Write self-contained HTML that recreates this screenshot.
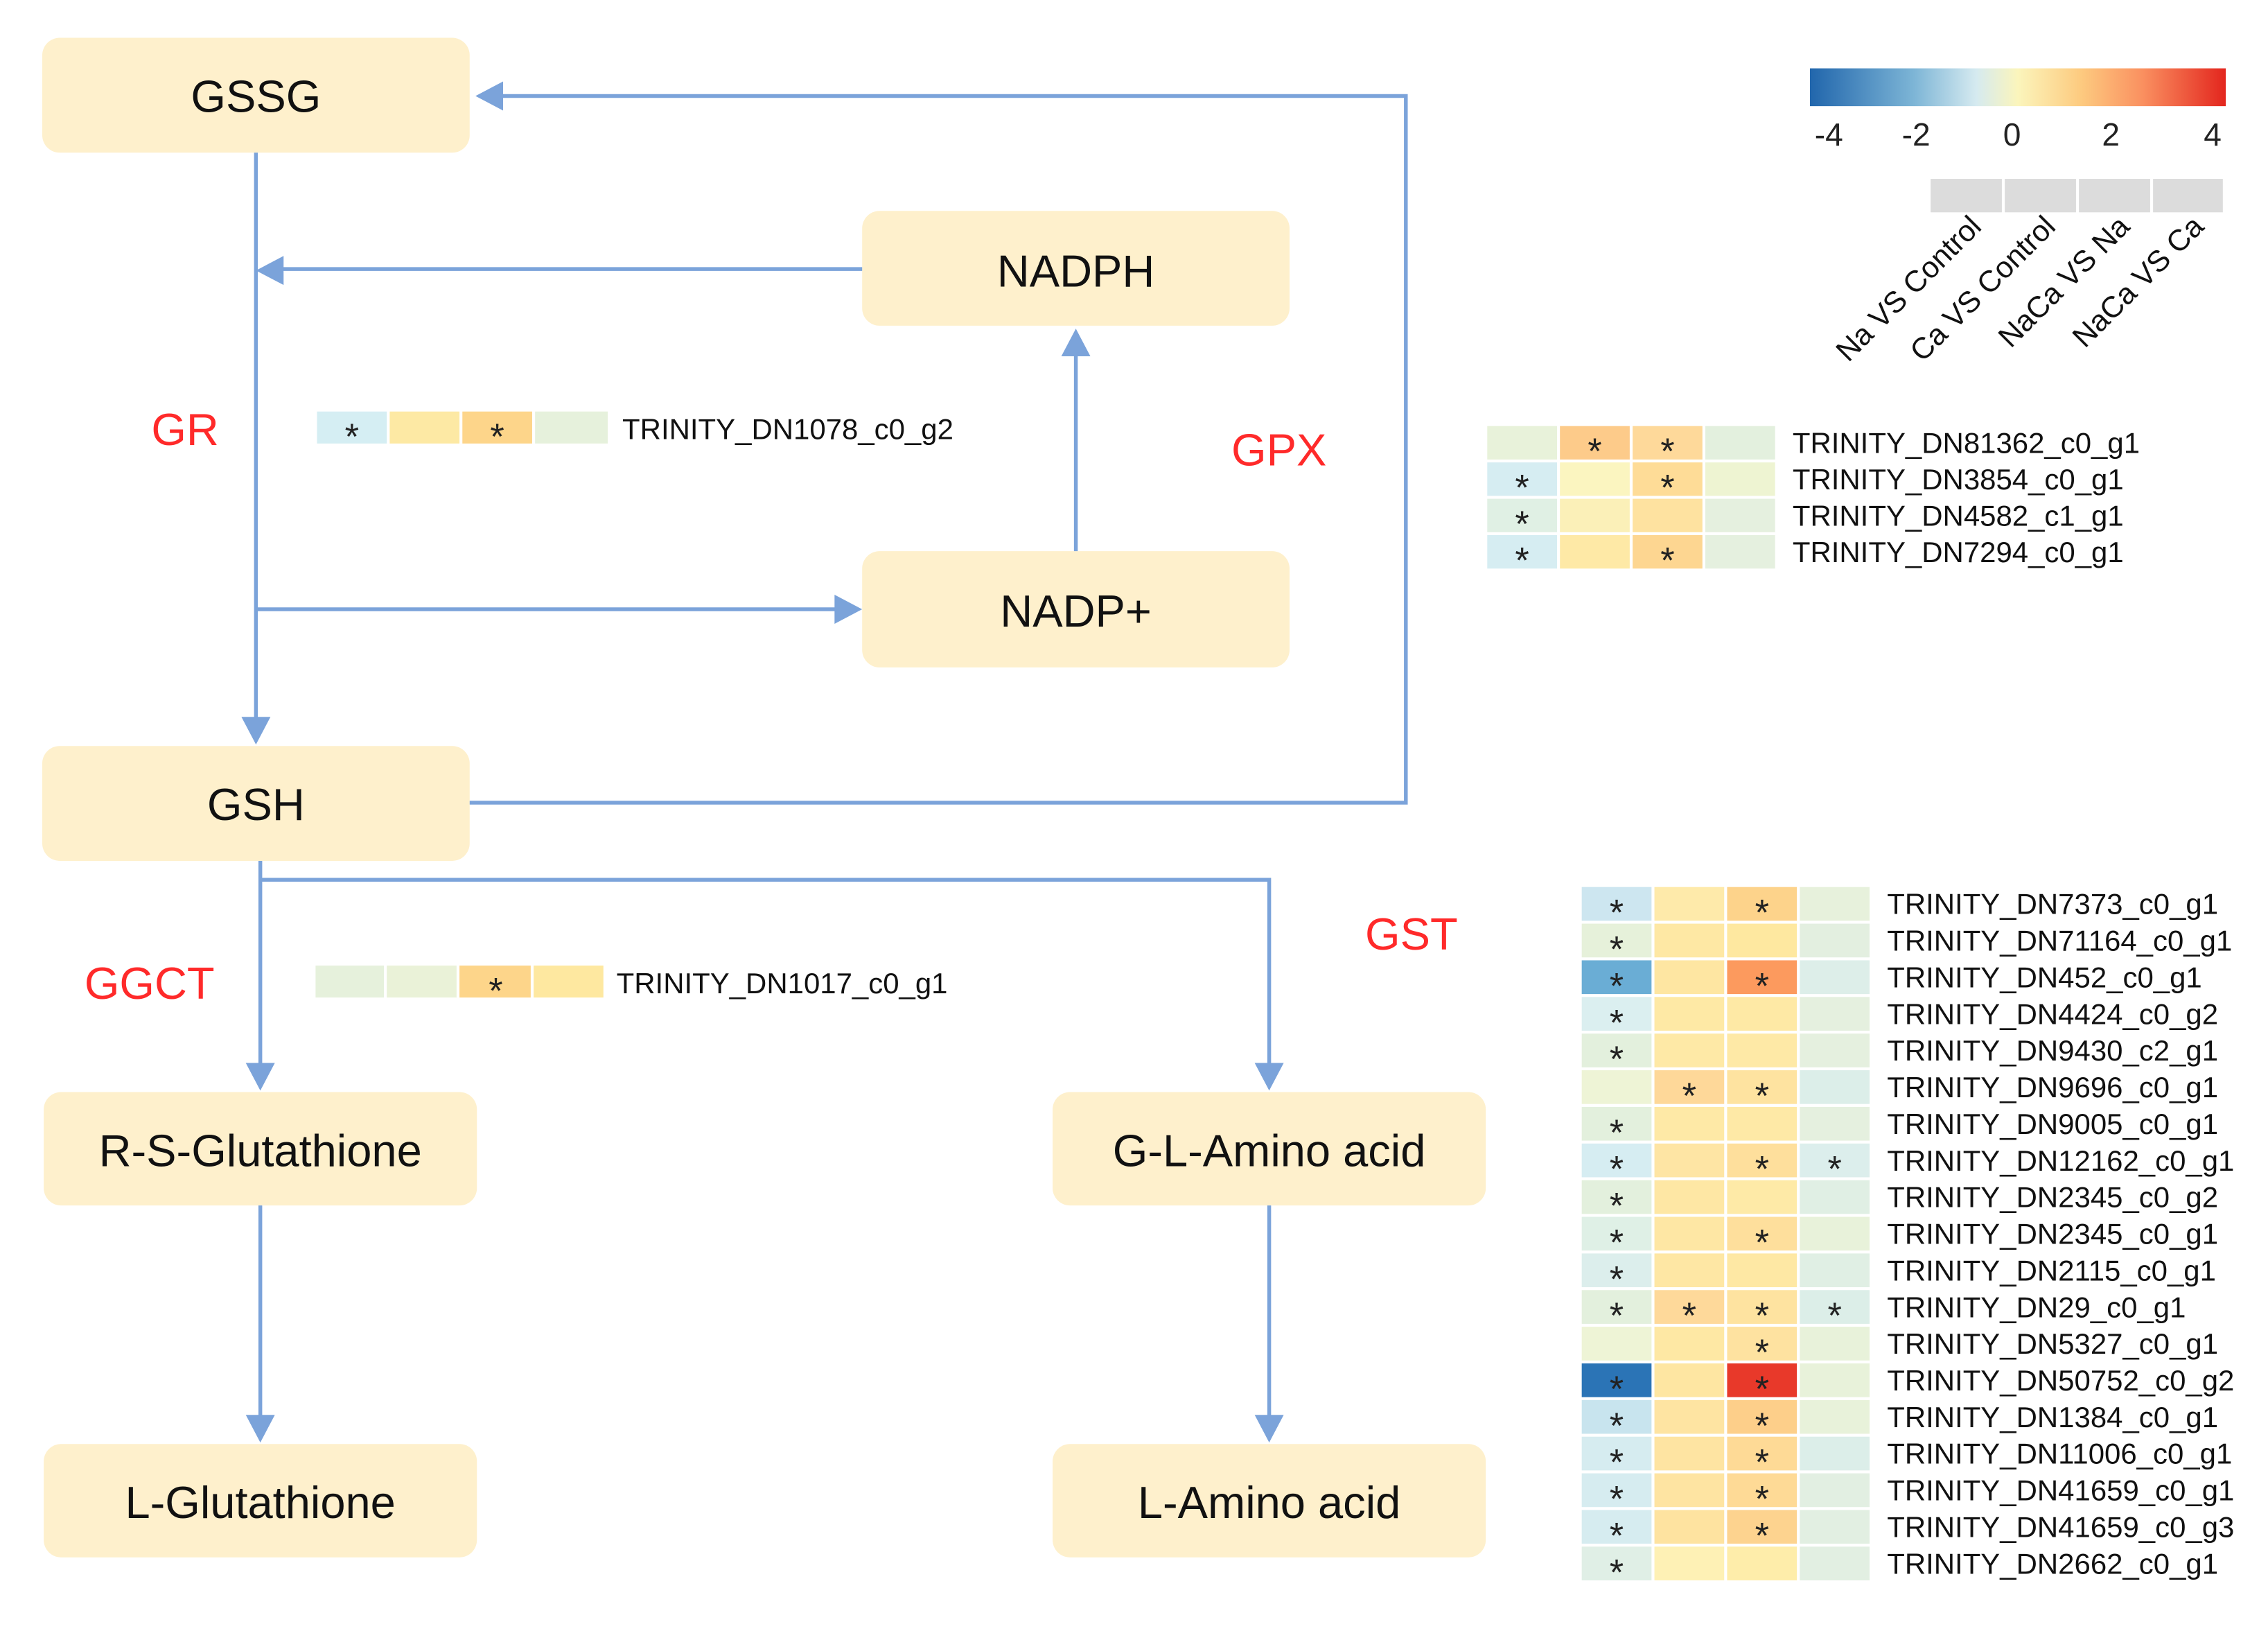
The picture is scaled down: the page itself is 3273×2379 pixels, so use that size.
<!DOCTYPE html>
<html><head><meta charset="utf-8"><style>
html,body{margin:0;padding:0;background:#fff}
svg{display:block}
text{font-family:"Liberation Sans",Arial,sans-serif}
</style></head><body>
<svg width="3273" height="2379" viewBox="0 0 1560 1134" xmlns="http://www.w3.org/2000/svg">
<defs>
<linearGradient id="cb" x1="0" x2="1" y1="0" y2="0">
<stop offset="0" stop-color="#2166AC"/><stop offset="0.25" stop-color="#7DB5D6"/><stop offset="0.4" stop-color="#D5EAF0"/><stop offset="0.5" stop-color="#FBF5BC"/><stop offset="0.65" stop-color="#FDCB80"/><stop offset="0.8" stop-color="#FA9060"/><stop offset="1" stop-color="#E3261E"/>
</linearGradient>
</defs>
<rect width="1560" height="1134" fill="#fff"/>
<g fill="#FEF0CC">
<rect x="29" y="26" width="294" height="79" rx="12"/>
<rect x="593" y="145" width="294" height="79" rx="12"/>
<rect x="593" y="379" width="294" height="80" rx="12"/>
<rect x="29" y="513" width="294" height="79" rx="12"/>
<rect x="30" y="751" width="298" height="78" rx="12"/>
<rect x="30" y="993" width="298" height="78" rx="12"/>
<rect x="724" y="751" width="298" height="78" rx="12"/>
<rect x="724" y="993" width="298" height="78" rx="12"/>
</g>
<g font-size="31" text-anchor="middle" fill="#111">
<text x="176" y="77">GSSG</text>
<text x="740" y="197">NADPH</text>
<text x="740" y="431">NADP+</text>
<text x="176" y="564">GSH</text>
<text x="179" y="802">R-S-Glutathione</text>
<text x="179" y="1044">L-Glutathione</text>
<text x="873" y="802">G-L-Amino acid</text>
<text x="873" y="1044">L-Amino acid</text>
</g>
<g stroke="#7BA3DA" stroke-width="2.6" fill="none">
<polyline points="323,552 967,552 967,66 345,66"/>
<line x1="176" y1="105" x2="176" y2="495"/>
<line x1="593" y1="185" x2="194" y2="185"/>
<line x1="176" y1="419" x2="575" y2="419"/>
<line x1="740" y1="379" x2="740" y2="243"/>
<line x1="179" y1="592" x2="179" y2="733"/>
<polyline points="179,605 873,605 873,733"/>
<line x1="179" y1="829" x2="179" y2="975"/>
<line x1="873" y1="829" x2="873" y2="975"/>
</g>
<g fill="#7BA3DA">
<path d="M327,66 L346,56 L346,76 z"/>
<path d="M176,186 L195,176 L195,196 z"/>
<path d="M593,419 L574,409 L574,429 z"/>
<path d="M740,226 L730,245 L750,245 z"/>
<path d="M176,512 L166,493 L186,493 z"/>
<path d="M179,750 L169,731 L189,731 z"/>
<path d="M873,750 L863,731 L883,731 z"/>
<path d="M179,992 L169,973 L189,973 z"/>
<path d="M873,992 L863,973 L883,973 z"/>
</g>
<g font-size="31" fill="#FF2A2A">
<text x="104" y="306">GR</text>
<text x="847" y="320">GPX</text>
<text x="58" y="687">GGCT</text>
<text x="939" y="653">GST</text>
</g>
<g>
<rect x="218" y="283" width="48" height="22" fill="#D5EEF3"/>
<rect x="268" y="283" width="48" height="22" fill="#FDE9A4"/>
<rect x="318" y="283" width="48" height="22" fill="#FDD58A"/>
<rect x="368" y="283" width="50" height="22" fill="#E6F1DC"/>
<rect x="217" y="664" width="47" height="22" fill="#E6F1DC"/>
<rect x="266" y="664" width="48" height="22" fill="#EAF2D8"/>
<rect x="316" y="664" width="49" height="22" fill="#FDD58A"/>
<rect x="367" y="664" width="48" height="22" fill="#FEE8A0"/>
</g>
<g font-size="25" text-anchor="middle" fill="#222">
<text x="242" y="309">*</text><text x="342" y="309">*</text><text x="341" y="690">*</text>
</g>
<g font-size="20" fill="#111">
<text x="428" y="302">TRINITY_DN1078_c0_g2</text>
<text x="424" y="683">TRINITY_DN1017_c0_g1</text>
</g>
<rect x="1245" y="47" width="286" height="26" fill="url(#cb)"/>
<g font-size="22" text-anchor="middle" fill="#222">
<text x="1258" y="100">-4</text><text x="1318" y="100">-2</text><text x="1384" y="100">0</text><text x="1452" y="100">2</text><text x="1522" y="100">4</text>
</g>
<g fill="#DCDCDC">
<rect x="1328" y="123" width="49" height="23"/><rect x="1379" y="123" width="49" height="23"/><rect x="1430" y="123" width="49" height="23"/><rect x="1481" y="123" width="48" height="23"/>
</g>
<g font-size="20.5" fill="#111" text-anchor="end">
<text transform="translate(1364,157) rotate(-45)">Na VS Control</text>
<text transform="translate(1415,157) rotate(-45)">Ca VS Control</text>
<text transform="translate(1466,157) rotate(-45)">NaCa VS Na</text>
<text transform="translate(1517,157) rotate(-45)">NaCa VS Ca</text>
</g>
<g id="gpx"></g>
<g id="gst"></g>
<script>
(function(){
var NS="http://www.w3.org/2000/svg";
function build(gid,x0,y0,rh,cw,rows){
 var g=document.getElementById(gid);
 rows.forEach(function(r,i){
  var y=y0+i*rh;
  for(var j=0;j<4;j++){
   var c=r[j+1],s=c.charAt(c.length-1)=='*';var col=s?c.slice(0,-1):c;
   var re=document.createElementNS(NS,"rect");
   re.setAttribute("x",x0+j*cw);re.setAttribute("y",y);re.setAttribute("width",cw-2);re.setAttribute("height",rh-2);re.setAttribute("fill",col);g.appendChild(re);
   if(s){var t=document.createElementNS(NS,"text");t.setAttribute("x",x0+j*cw+cw/2-1);t.setAttribute("y",y+rh+1);t.setAttribute("font-size","25");t.setAttribute("text-anchor","middle");t.setAttribute("fill","#222");t.textContent="*";g.appendChild(t);}
  }
  var tt=document.createElementNS(NS,"text");tt.setAttribute("x",x0+4*cw+10);tt.setAttribute("y",y+rh*0.5+6);tt.setAttribute("font-size","20");tt.setAttribute("fill","#111");tt.textContent=r[0];g.appendChild(tt);
 });
}
build("gpx",1023,293,25,50,[
["TRINITY_DN81362_c0_g1","#E8F2DA","#FDCB8A*","#FED99A*","#E3F0DE"],
["TRINITY_DN3854_c0_g1","#D6EDF2*","#FBF5C0","#FEDC97*","#EEF4D2"],
["TRINITY_DN4582_c1_g1","#E0F0E4*","#FBF0B8","#FEE2A0","#E5F0DF"],
["TRINITY_DN7294_c0_g1","#D6EDF2*","#FEE9A6","#FDD691*","#E5F0DF"]]);
build("gst",1088,610,25.2,50,[
["TRINITY_DN7373_c0_g1","#CDE6F0*","#FEEAAA","#FDD38B*","#E7F1DC"],
["TRINITY_DN71164_c0_g1","#E6F1DA*","#FEE8A4","#FEE8A0","#E3EFE0"],
["TRINITY_DN452_c0_g1","#6AADD5*","#FEE6A2","#FC9A5E*","#DDEEE9"],
["TRINITY_DN4424_c0_g2","#DBEFF0*","#FEE9A5","#FEE9A5","#E5F0DF"],
["TRINITY_DN9430_c2_g1","#E3F0DD*","#FEE9A6","#FEE9A6","#E5F0DF"],
["TRINITY_DN9696_c0_g1","#EEF4D6","#FED899*","#FEE3A0*","#DCEEE9"],
["TRINITY_DN9005_c0_g1","#E3F0DD*","#FEE9A6","#FEE9A6","#E5F0DF"],
["TRINITY_DN12162_c0_g1","#D6EDF2*","#FEE5A4","#FEDF9C*","#DCEEEC*"],
["TRINITY_DN2345_c0_g2","#E3F0DD*","#FEE7A4","#FEEAA7","#E0EFE4"],
["TRINITY_DN2345_c0_g1","#DFF0E6*","#FEE7A4","#FEDF9C*","#E8F2DA"],
["TRINITY_DN2115_c0_g1","#DCEEEC*","#FEE7A4","#FEE8A4","#E0EFE4"],
["TRINITY_DN29_c0_g1","#E3F0DD*","#FED99A*","#FEE3A0*","#DCEEE8*"],
["TRINITY_DN5327_c0_g1","#EEF4D6","#FEE8A4","#FEE2A0*","#E8F2DA"],
["TRINITY_DN50752_c0_g2","#2B74B6*","#FEE6A2","#E8392A*","#E8F2DA"],
["TRINITY_DN1384_c0_g1","#C8E4EE*","#FEE4A2","#FDCF8A*","#E8F2DA"],
["TRINITY_DN11006_c0_g1","#D6ECF0*","#FEE4A2","#FEDA96*","#DCEEE9"],
["TRINITY_DN41659_c0_g1","#D6ECF0*","#FEE4A2","#FEDA96*","#E2EFE2"],
["TRINITY_DN41659_c0_g3","#D6ECF0*","#FEE3A0","#FDD38F*","#E2EFE2"],
["TRINITY_DN2662_c0_g1","#E0EFE6*","#FEF1B5","#FEEDAA","#E2EFE2"]]);
})();
</script>
</svg>
</body></html>
